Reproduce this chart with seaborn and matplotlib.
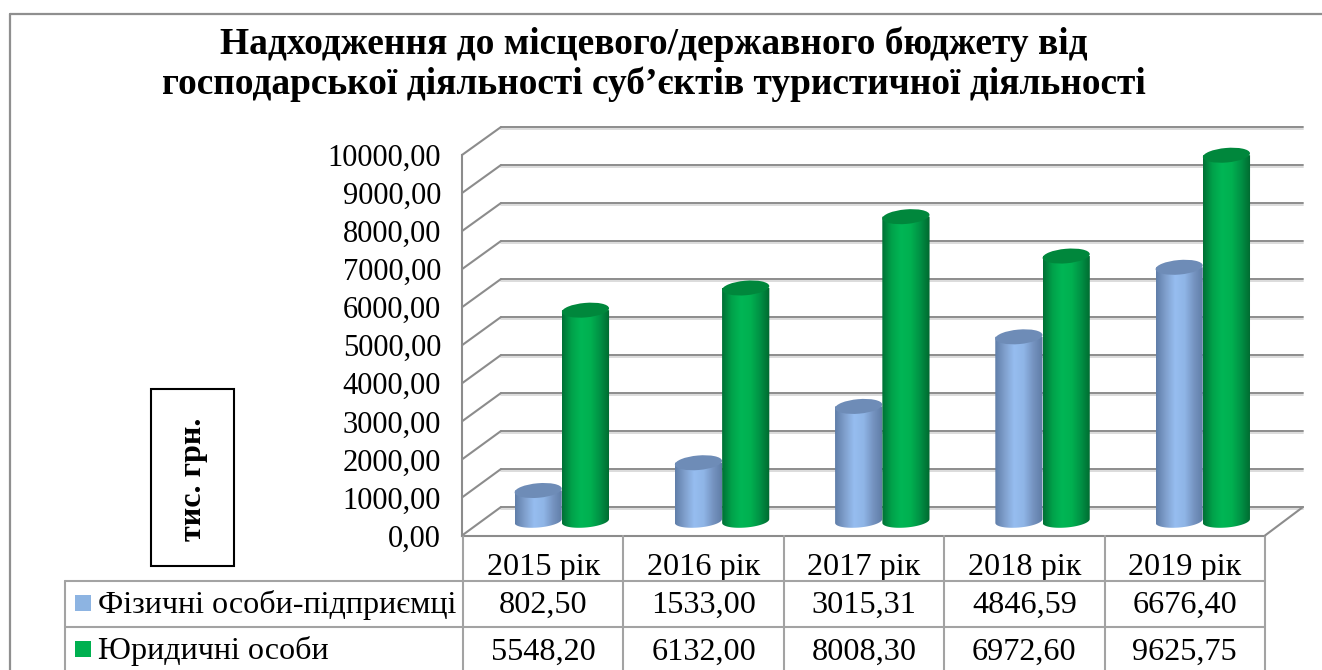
import numpy as np
import pandas as pd
import matplotlib
matplotlib.use("Agg")
import matplotlib.pyplot as plt
import matplotlib.patheffects as pe
from matplotlib.colors import LinearSegmentedColormap
from matplotlib.lines import Line2D
from matplotlib.patches import Ellipse, Rectangle
from matplotlib.path import Path
from matplotlib.transforms import IdentityTransform
import seaborn as sns

years = ["2015 рік", "2016 рік", "2017 рік", "2018 рік", "2019 рік"]
series_names = ["Фізичні особи-підприємці", "Юридичні особи"]
fop_values = [802.50, 1533.00, 3015.31, 4846.59, 6676.40]
legal_values = [5548.20, 6132.00, 8008.30, 6972.60, 9625.75]
y_ticks = list(range(0, 11000, 1000))
title_text = "Надходження до місцевого/державного бюджету від\nгосподарської діяльності суб’єктів туристичної діяльності"
unit_text = "тис. грн."

W, H = 1322, 670
GRID = "#8c8c8c"
TABLE = "#a3a3a3"

sns.set_theme(style="white")
plt.rcParams["font.family"] = ["Liberation Serif", "DejaVu Serif"]

fig = plt.figure(figsize=(W / 100, H / 100), dpi=100, facecolor="white")


def px_axes(x0, y0, x1, y1):
    # axes from picture pixels (y counted from the top)
    a = fig.add_axes([x0 / W, 1 - y1 / H, (x1 - x0) / W, (y1 - y0) / H])
    a.patch.set_visible(False)
    return a


def px_line(x0, y0, x1, y1, color=GRID, lw=1.5, zorder=1):
    fig.add_artist(Line2D([x0 / W, x1 / W], [1 - y0 / H, 1 - y1 / H], color=color, lw=lw,
                          transform=fig.transFigure, zorder=zorder))


# outer frame, only the left and top edges show
px_line(10, 14, 10, 670, color="#8f8f8f", lw=1.6)
px_line(10, 14, 1322, 14, color="#8f8f8f", lw=1.6)

# back wall
ax_back = px_axes(501, 127, 1303, 507)
ax_back.set_xlim(-0.5, 4.5)
ax_back.set_ylim(0, 10000)
ax_back.set_yticks(y_ticks)
ax_back.set_xticks([])
ax_back.set_yticklabels([])
ax_back.tick_params(length=0)
ax_back.grid(axis="y", color=GRID, lw=1.4)
for g in ax_back.get_ygridlines():
    g.set_clip_on(False)
    g.set_path_effects([pe.SimpleLineShadow(offset=(0, -1.3), shadow_color="#dcdcdc", alpha=1), pe.Normal()])
sns.despine(ax=ax_back, left=True, bottom=True)

# front plane with the value labels
ax_front = px_axes(462, 155, 1265, 535.5)
ax_front.set_xlim(-0.5, 4.5)
ax_front.set_ylim(0, 10000)
ax_front.set_yticks(y_ticks)
ax_front.set_yticklabels([f"{v:.2f}".replace(".", ",") for v in y_ticks], fontsize=22, color="black")
ax_front.set_xticks([])
ax_front.tick_params(axis="y", length=0, pad=15)
sns.despine(ax=ax_front)
for s in ["left", "bottom"]:
    ax_front.spines[s].set_color(GRID)
    ax_front.spines[s].set_linewidth(1.5)

# side wall and floor diagonals
for v in y_ticks:
    p0 = ax_front.transData.transform((-0.5, v))
    p1 = ax_back.transData.transform((-0.5, v))
    px_line(p0[0], H - p0[1], p1[0], H - p1[1])
px_line(1265, 535.5, 1303, 507)

# bars sit half way between front plane and back wall
ax = px_axes(481.7, 141, 1282.9, 521)
ax.set_zorder(5)
frame = pd.DataFrame({
    "year": years * 2,
    "series": [series_names[0]] * 5 + [series_names[1]] * 5,
    "value": fop_values + legal_values,
})
sns.barplot(data=frame, x="year", y="value", hue="series", width=0.59, gap=0, dodge=True,
            legend=False, ax=ax, palette=["#8db4e2", "#00b050"])
ax.set_xlim(-0.5, 4.5)
ax.set_ylim(0, 10000)
ax.set_axis_off()

blue_map = LinearSegmentedColormap.from_list("b", ["#5f7da8", "#7f9fcc", "#96bdf0", "#8fb5e6", "#7593c0", "#5e7ba5"])
green_map = LinearSegmentedColormap.from_list("g", ["#006f35", "#00a24a", "#00b655", "#00b050", "#009044", "#00682f"])
cap_colors = ["#6e8cb7", "#00873c"]
TILT = 5.0
gradient = np.linspace(0, 1, 256).reshape(1, -1)
bars = list(ax.patches)
for i, bar in enumerate(bars):
    series = 0 if i < 5 else 1
    left, w, h = bar.get_x(), bar.get_width(), bar.get_height()
    bar.set_visible(False)
    x0, y0 = ax.transData.transform((left, 0))
    x1, y1 = ax.transData.transform((left + w, h))
    cx = (x0 + x1) / 2
    pw = x1 - x0
    # cylinder outline in display pixels: sides plus the lower half of the base
    t = np.linspace(np.pi, 2 * np.pi, 40)
    ex = pw / 2 * np.cos(t)
    ey = 6.5 * np.sin(t)
    a = np.radians(TILT)
    bx = cx + ex * np.cos(a) - ey * np.sin(a)
    by = y0 + ex * np.sin(a) + ey * np.cos(a)
    verts = np.column_stack([np.r_[x0, bx, x1, x0], np.r_[y1, by, y1, y1]])
    clip = Path(verts)
    img = ax.imshow(gradient, extent=(left, left + w, -400, h), aspect="auto",
                    cmap=blue_map if series == 0 else green_map, zorder=3 + series, interpolation="bilinear")
    img.set_clip_path(clip, IdentityTransform())
    img.set_clip_box(fig.bbox)
    cap = Ellipse((cx, y1), pw, 14.5, angle=TILT, facecolor=cap_colors[series], edgecolor="none",
                  transform=IdentityTransform(), zorder=3.5 + series, clip_on=False)
    ax.add_patch(cap)
ax.set_xlim(-0.5, 4.5)
ax.set_ylim(0, 10000)

# data table under the chart
ax_table = px_axes(463, 535, 1265, 673)
ax_table.set_xlim(0, 5)
ax_table.set_ylim(3, 0)
ax_table.set_axis_off()
ax_table.vlines(range(6), 0, 3, color=TABLE, lw=1.5, clip_on=False)
for r in [1, 2]:
    px_line(65, 535 + 46 * r, 1265, 535 + 46 * r, color=TABLE, lw=1.5)
px_line(65, 581, 65, 670, color=TABLE, lw=1.5)
for i, yr in enumerate(years):
    ax_table.text(i + 0.5, 0.87, yr, ha="center", va="baseline", fontsize=23.2, color="black")
    ax_table.text(i + 0.5, 1.70, f"{fop_values[i]:.2f}".replace(".", ","), ha="center", va="baseline", fontsize=23.2, color="black")
    ax_table.text(i + 0.5, 2.72, f"{legal_values[i]:.2f}".replace(".", ","), ha="center", va="baseline", fontsize=23.2, color="black")

# legend keys in the table
for name, base, color in zip(series_names, [613, 659], ["#8db4e2", "#00b050"]):
    fig.add_artist(Rectangle((75 / W, 1 - (base - 2) / H), 16 / W, 16 / H, transform=fig.transFigure,
                             facecolor=color, edgecolor="none"))
    fig.text(98 / W, 1 - base / H, name, ha="left", va="baseline", fontsize=23.1, color="black")

# unit box
fig.add_artist(Rectangle((151 / W, 1 - 566 / H), 83 / W, 177 / H, transform=fig.transFigure,
                         facecolor="white", edgecolor="black", lw=1.5))
fig.text(193.5 / W, 1 - 479 / H, unit_text, rotation=90, ha="center", va="center", fontsize=23,
         fontweight="bold", color="black")

fig.text(654 / W, 1 - 64 / H, title_text, ha="center", va="center", fontsize=26.9, fontweight="bold",
         color="black", linespacing=1.18, multialignment="center")

fig.savefig("out.png", dpi=100)
